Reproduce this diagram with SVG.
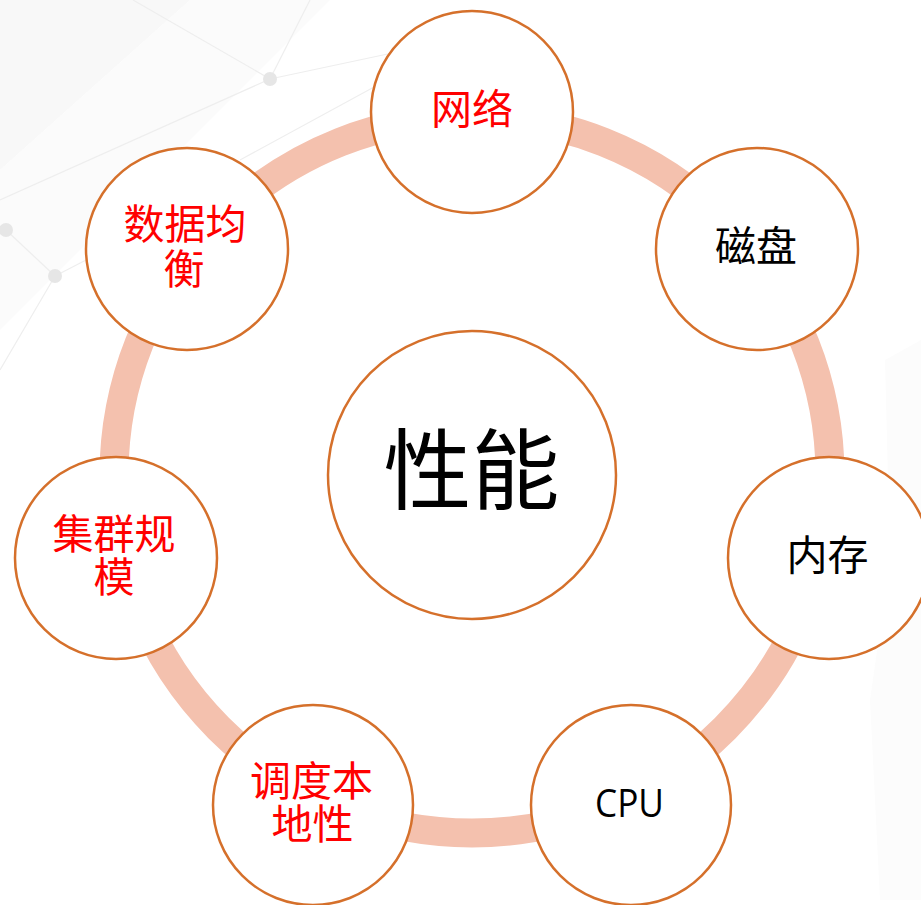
<svg xmlns="http://www.w3.org/2000/svg" width="921" height="905" viewBox="0 0 921 905">
  <style>
    .bgline { stroke: #eeeeee; stroke-width: 1.2; fill: none; }
    .bgdot { fill: #e6e6e6; }
    .node { fill: #ffffff; stroke: #D5702B; stroke-width: 2.5; }
    .cjk { font-family: "Noto Sans CJK SC", "Noto Sans", sans-serif; text-anchor: middle; }
    .red { fill: #ff0000; }
    .blk { fill: #000000; }
    .lbl { font-size: 41px; }
  </style>
  <rect width="921" height="905" fill="#ffffff"/>
  <g id="background">
    <polygon points="0,0 190,0 0,170" fill="#f8f8f8"/>
    <polygon points="0,170 190,0 330,0 0,330" fill="#fbfbfb"/>
    <polygon points="885,360 921,340 921,900 880,900 870,700 890,560" fill="#fcfcfc"/>
    <line class="bgline" x1="133" y1="0" x2="270" y2="79"/>
    <line class="bgline" x1="270" y1="79" x2="310" y2="0"/>
    <line class="bgline" x1="270" y1="79" x2="430" y2="45"/>
    <line class="bgline" x1="270" y1="79" x2="0" y2="200"/>
    <line class="bgline" x1="420" y1="62" x2="240" y2="160"/>
    <line class="bgline" x1="6" y1="230" x2="55" y2="276"/>
    <line class="bgline" x1="55" y1="276" x2="0" y2="370"/>
    <line class="bgline" x1="55" y1="276" x2="90" y2="258"/>
    <circle class="bgdot" cx="270" cy="79" r="7"/>
    <circle class="bgdot" cx="6" cy="230" r="7"/>
    <circle class="bgdot" cx="55" cy="276" r="7"/>
  </g>
  <g id="connectors">
    <circle cx="472" cy="475" r="358" fill="none" stroke="#F4C1AE" stroke-width="29"/>
  </g>
  <g id="node-center">
    <circle class="node" cx="472" cy="475" r="144"/>
    <text class="cjk blk" x="471.5" y="502" font-size="88">性能</text>
  </g>
  <g id="node-network">
    <circle class="node" cx="472" cy="112" r="101"/>
    <text class="cjk red lbl" x="472" y="123.5">网络</text>
  </g>
  <g id="node-disk">
    <circle class="node" cx="757" cy="249" r="101"/>
    <text class="cjk blk lbl" x="756" y="261">磁盘</text>
  </g>
  <g id="node-memory">
    <circle class="node" cx="829" cy="558" r="101"/>
    <text class="cjk blk lbl" x="827.5" y="570">内存</text>
  </g>
  <g id="node-cpu">
    <circle class="node" cx="631" cy="805" r="100"/>
    <text x="629.5" y="817" font-family="'Open Sans', 'Noto Sans', sans-serif" font-size="38" text-anchor="middle" textLength="69" lengthAdjust="spacingAndGlyphs" fill="#000000">CPU</text>
  </g>
  <g id="node-locality">
    <circle class="node" cx="313" cy="805" r="100"/>
    <text class="cjk red lbl"><tspan x="311.5" y="796">调度本</tspan><tspan x="312.5" y="839">地性</tspan></text>
  </g>
  <g id="node-cluster">
    <circle class="node" cx="116" cy="558" r="101"/>
    <text class="cjk red lbl"><tspan x="114" y="549">集群规</tspan><tspan x="114" y="592">模</tspan></text>
  </g>
  <g id="node-balance">
    <circle class="node" cx="187" cy="249" r="101"/>
    <text class="cjk red lbl"><tspan x="185" y="239">数据均</tspan><tspan x="184" y="284">衡</tspan></text>
  </g>
</svg>
